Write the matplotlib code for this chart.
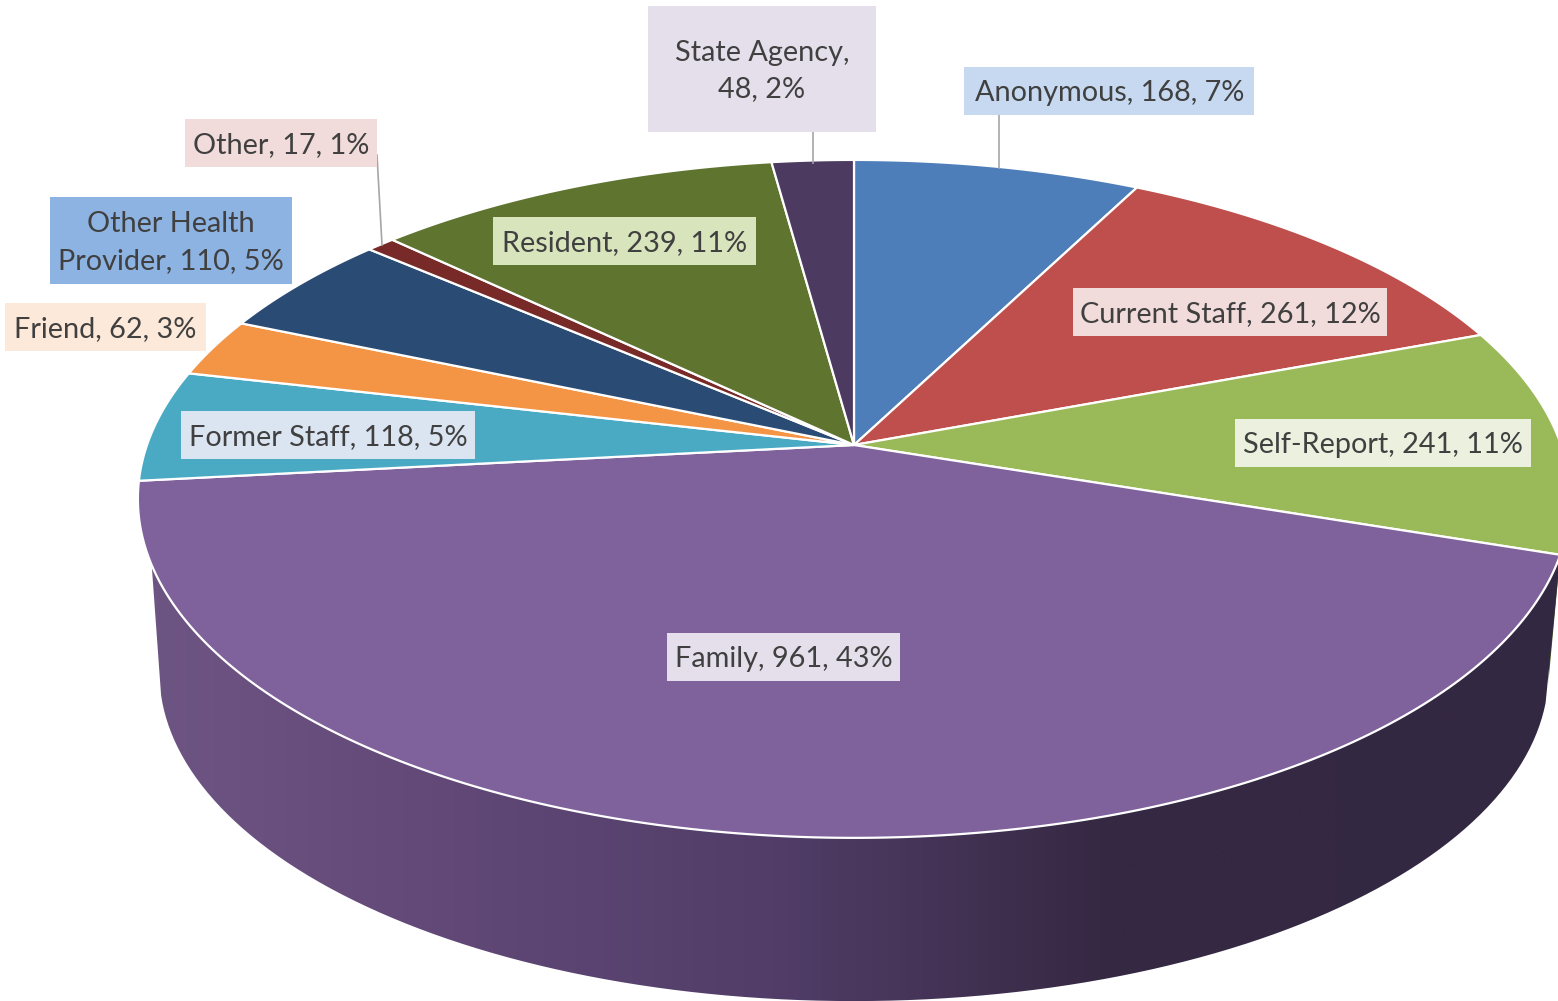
import matplotlib
matplotlib.use('Agg')
import matplotlib.pyplot as plt
import numpy as np
from matplotlib.colors import LinearSegmentedColormap
from matplotlib.patches import Polygon, Rectangle

names = ['Anonymous', 'Current Staff', 'Self-Report', 'Family', 'Former Staff',
         'Friend', 'Other Health\nProvider', 'Other', 'Resident', 'State Agency,\n']
values = [168, 261, 241, 961, 118, 62, 110, 17, 239, 48]
percents = [7, 12, 11, 43, 5, 3, 5, 1, 11, 2]
slice_colors = ['#4E7EBA', '#BE4F4C', '#9AB958', '#7F619C', '#4AAAC4',
                '#F49445', '#2A4B73', '#772A28', '#5E742F', '#4C3A61']
box_colors = ['#C6D9F1', '#F2DCDB', '#EBF1DE', '#E5DFEC', '#DBE5F1',
              '#FDE9D9', '#8DB3E2', '#F2DCDB', '#D8E4BC', '#E5DFEC']
# label boxes in pixels: left, top, right, bottom
boxes = [(964.5, 67, 1254, 115), (1073, 288, 1387, 336), (1235, 419, 1531, 467),
         (667, 633, 900, 681), (181, 411, 475, 459), (5, 303, 206, 351),
         (50, 197, 292, 284), (185, 119, 377, 167), (493, 217, 756, 265),
         (648, 6, 876, 132)]
leaders = [((999, 115), (999, 168)), ((813, 132), (813, 163)), ((377, 155), (382, 245))]

CX, CY = 854, 445      # apex of the top face
K = 0.159              # perspective strength
A, B = 707, 330.4      # top face size
CY_LOW, SCALE_LOW = 620, 0.97   # bottom rim


def project(theta, cy=CY, scale=1.0):
    # theta in degrees clockwise from the top of the pie
    t = np.radians(theta)
    ux, uy = np.sin(t), np.cos(t)
    w = 1 + K * uy
    return CX + scale * A * ux / w, cy - scale * B * uy / w


def wall_poly(t1, t2, top_back=0):
    # the rim corners sit a little further round than the top corners
    x1, y1 = project(np.linspace(t1, t2 - top_back, 120))
    x2, y2 = project(np.linspace(t2 - 7, t1 - 4, 120), cy=CY_LOW, scale=SCALE_LOW)
    return np.column_stack([np.r_[x1, x2], np.r_[y1, y2]])


edges = np.r_[0, np.cumsum(values)] / np.sum(values) * 360

fig = plt.figure(figsize=(15.58, 10.01), dpi=100)
ax = fig.add_axes([0, 0, 1, 1])
ax.set_xlim(0, 1558)
ax.set_ylim(1001, 0)
ax.axis('off')

# side wall: green sliver behind, shaded Family wall in front
ax.add_patch(Polygon(wall_poly(edges[2], edges[3]), color='#4A5C25', lw=0))
wall = Polygon(wall_poly(edges[3], edges[4], top_back=14), facecolor='none', lw=0)
ax.add_patch(wall)
cmap = LinearSegmentedColormap.from_list('wall', [(0, '#6E5684'), (0.17, '#654B7A'),
                                                  (0.45, '#513D68'), (0.6, '#403050'),
                                                  (0.69, '#352842'), (1, '#332842')])
grad = ax.imshow(np.linspace(0, 1, 512)[None, :], cmap=cmap, extent=(130, 1558, 1001, 400),
                 aspect='auto', zorder=1)
grad.set_clip_path(wall)
ax.set_xlim(0, 1558)
ax.set_ylim(1001, 0)

# top face
for i in range(len(values)):
    t = np.linspace(edges[i], edges[i + 1], 200)
    x, y = project(t)
    pts = np.column_stack([np.r_[CX, x], np.r_[CY, y]])
    ax.add_patch(Polygon(pts, closed=True, facecolor=slice_colors[i], edgecolor='white',
                         lw=1.6, zorder=2, joinstyle='round'))

for (p, q) in leaders:
    ax.plot([p[0], q[0]], [p[1], q[1]], color='#A6A6A6', lw=1.2, zorder=3)

for i in range(len(values)):
    l, t, r, b = boxes[i]
    ax.add_patch(Rectangle((l, t), r - l, b - t, facecolor=box_colors[i], lw=0, zorder=4))
    if names[i].endswith('\n'):
        label = f'{names[i]}{values[i]}, {percents[i]}%'
    else:
        label = f'{names[i]}, {values[i]}, {percents[i]}%'
    ax.text((l + r) / 2, (t + b) / 2 + 2, label, ha='center', va='center', fontsize=20.8,
            family='Lato', color='#404040', linespacing=1.5, zorder=5)

fig.savefig('out.png', dpi=100)
